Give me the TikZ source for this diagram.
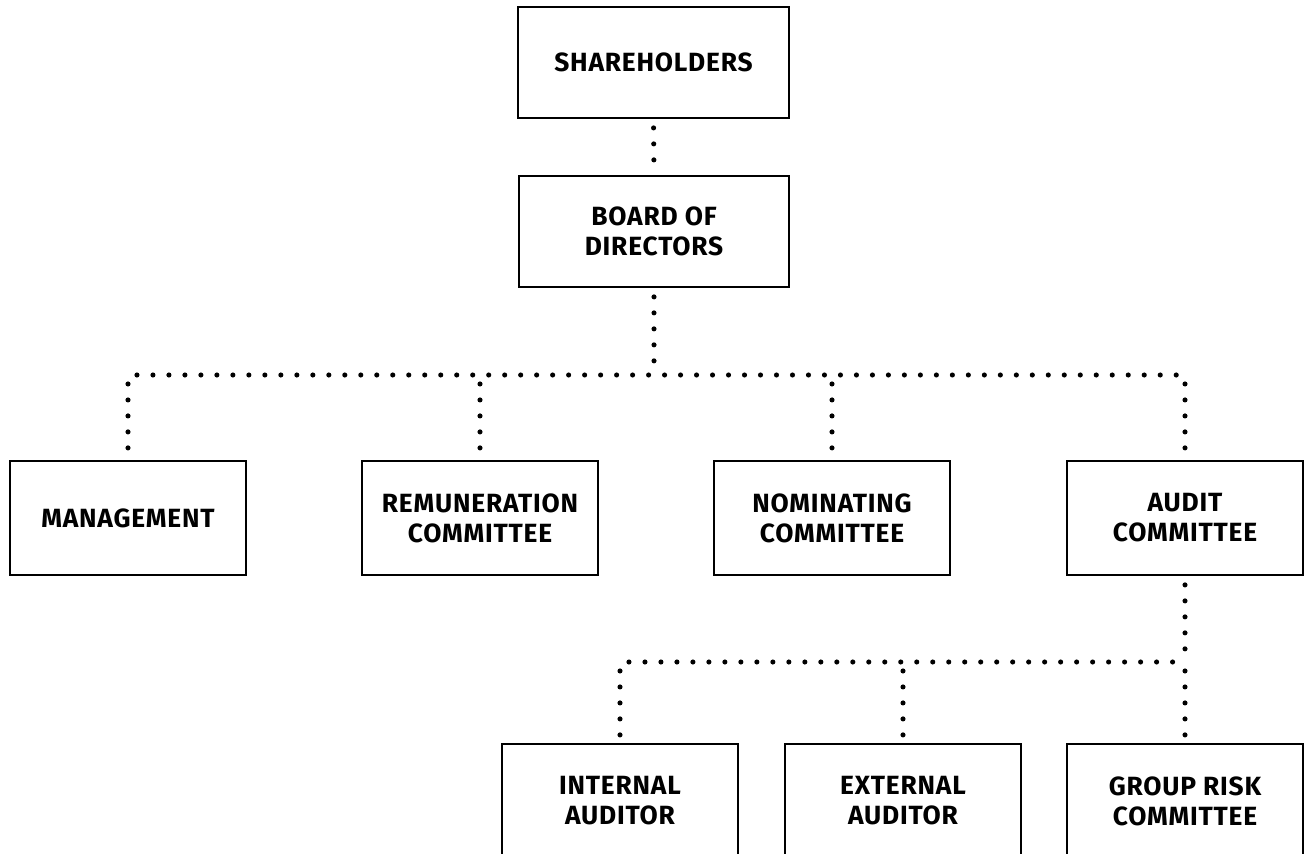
\documentclass[tikz,border=0pt]{standalone}
\usepackage{fontspec}
\setmainfont{Fira Sans}
\usetikzlibrary{positioning}
\tikzset{orgbox/.style={draw,line width=1.1pt,inner sep=0pt,align=center,font=\fontsize{15}{17}\selectfont\bfseries\addfontfeature{LetterSpace=3}},
  dotline/.style={line width=2.9pt,line cap=round,dash pattern=on 0pt off 9.1pt,dash phase=4pt}}

\begin{document}
\begin{tikzpicture}[x=0.02cm,y=-0.02cm]
\useasboundingbox (0,0) rectangle (1308,854);
\clip (0,0) rectangle (1308,854);
\node[orgbox,minimum width=5.42cm,minimum height=2.22cm] (sh) at (653.5,62.5) {SHAREHOLDERS};
\node[orgbox,minimum width=5.4cm,minimum height=2.22cm] (bod) at (654,231.5) {BOARD OF\\DIRECTORS};
\node[orgbox,minimum width=4.72cm,minimum height=2.28cm] (mgmt) at (128,518) {MANAGEMENT};
\node[orgbox,minimum width=4.72cm,minimum height=2.28cm] (rem) at (480,518) {REMUNERATION\\COMMITTEE};
\node[orgbox,minimum width=4.72cm,minimum height=2.28cm] (nom) at (832,518) {NOMINATING\\COMMITTEE};
\node[orgbox,minimum width=4.72cm,minimum height=2.28cm] (aud) at (1185,518) {AUDIT\\COMMITTEE};
\node[orgbox,minimum width=4.72cm,minimum height=2.28cm] (int) at (620,801) {INTERNAL\\AUDITOR};
\node[orgbox,minimum width=4.72cm,minimum height=2.28cm] (ext) at (903,801) {EXTERNAL\\AUDITOR};
\node[orgbox,minimum width=4.72cm,minimum height=2.28cm] (grc) at (1185,801) {GROUP RISK\\COMMITTEE};
\coordinate (j1) at (654,375);
\coordinate (j2) at (1185,662);
\draw[dotline] (sh.south)--(bod.north);
\draw[dotline] (bod.south)--(j1);
\draw[dotline] (mgmt.north |- j1)--(aud.north |- j1);
\foreach \b in {mgmt,rem,nom,aud}
  \draw[dotline] (\b.north |- j1)--(\b.north);
\draw[dotline] (aud.south)--(j2);
\draw[dotline] (int.north |- j2)--(j2);
\foreach \b in {int,ext,grc}
  \draw[dotline] (\b.north |- j2)--(\b.north);
\end{tikzpicture}
\end{document}
